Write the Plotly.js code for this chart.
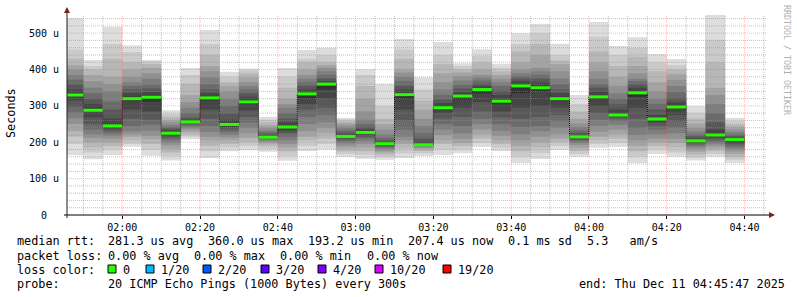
<!DOCTYPE html>
<html><head><meta charset="utf-8">
<script src="https://cdn.plot.ly/plotly-3.0.1.min.js"></script>
<style>html,body{margin:0;padding:0;background:#fff}#chart{width:797px;height:297px}</style>
</head><body><div id="chart"></div>
<script>
// ---- data (microseconds) ----
const slotEnds = ['01:50','01:55','02:00','02:05','02:10','02:15','02:20','02:25','02:30','02:35','02:40','02:45','02:50','02:55','03:00','03:05','03:10','03:15','03:20','03:25','03:30','03:35','03:40','03:45','03:50','03:55','04:00','04:05','04:10','04:15','04:20','04:25','04:30','04:35','04:40'];
const medianRtt = [330,288,245,320,324,225,256,322,249,311,214,242,333,360,216,227,196,331,193.2,295,327,345,313,355,350,320,215,325,275,336,264,297,204,220,207.4];

// 20 sorted ping times per 5-minute slot
const r0150 = [164,195,215,230,250,266,282,298,315,327,333,345,360,372,385,400,412,430,455,541];
const r0155 = [153,172,185,200,212,222,235,250,268,284,292,305,320,335,350,368,385,400,410,426];
const r0200 = [165,180,190,200,210,218,225,232,238,243,248,265,290,312,340,360,380,430,470,518];
const r0205 = [188,195,205,215,222,230,245,265,290,315,325,335,345,355,365,380,400,420,448,466];
const r0210 = [163,180,195,208,218,232,248,262,285,312,330,338,348,358,375,390,405,415,422,426];
const r0215 = [150,162,172,182,192,200,207,213,218,222,228,233,238,242,248,255,262,270,278,288];
const r0220 = [208,215,222,228,235,240,245,250,253,255,258,262,268,280,295,310,330,360,385,404];
const r0225 = [157,175,190,205,215,228,245,265,290,315,325,335,345,360,378,395,410,440,470,509];
const r0230 = [175,185,195,205,213,220,228,235,242,247,252,262,280,300,320,340,355,365,380,394];
const r0235 = [178,190,200,212,225,240,255,270,288,305,315,325,335,345,355,365,378,390,398,403];
const r0240 = [174,182,190,196,201,205,208,210,212,213,216,219,223,228,233,240,247,255,262,270];
const r0245 = [149,162,175,185,195,205,215,225,232,238,245,255,265,280,295,305,320,350,380,404];
const r0250 = [176,190,205,215,230,250,270,290,305,320,335,345,355,365,375,385,400,420,430,454];
const r0255 = [180,195,210,225,240,255,275,295,320,345,362,368,375,385,395,405,412,420,440,460];
const r0300 = [160,168,175,183,190,197,203,208,212,215,218,222,227,233,240,247,253,258,263,267];
const r0305 = [155,165,175,185,195,203,210,215,220,225,230,235,242,250,262,285,320,355,385,401];
const r0310 = [152,160,166,172,177,182,186,189,192,194,197,200,205,212,222,235,250,265,300,360];
const r0315 = [157,170,183,195,205,215,235,260,290,320,335,345,355,368,380,392,400,430,455,484];
const r0320 = [162,170,176,181,185,188,190,191,192,193,194,200,210,225,245,265,290,315,345,379];
const r0325 = [165,180,195,205,220,235,250,265,280,292,298,308,318,330,345,365,390,415,440,476];
const r0330 = [170,180,190,198,210,225,245,270,295,318,330,338,348,358,370,382,392,400,410,417];
const r0335 = [187,198,210,222,235,250,265,285,310,335,348,355,362,370,378,385,400,420,438,456];
const r0340 = [176,185,195,205,218,232,250,268,285,305,318,330,342,355,365,375,385,395,405,416];
const r0345 = [143,160,175,190,205,222,242,265,295,335,358,368,375,382,390,400,420,450,470,500];
const r0350 = [154,170,185,200,215,230,245,270,300,340,355,365,375,385,395,405,440,470,500,525];
const r0355 = [179,190,200,210,222,240,258,275,295,315,325,335,345,360,375,395,415,425,440,471];
const r0400 = [160,168,176,184,192,198,203,207,211,214,217,221,226,233,242,252,265,285,305,330];
const r0405 = [185,195,205,215,228,245,262,280,300,320,330,340,350,360,375,395,420,450,490,531];
const r0410 = [187,198,210,222,235,248,258,265,270,273,278,290,305,320,335,355,380,410,440,465];
const r0415 = [142,160,175,190,205,220,240,265,295,325,340,350,360,368,375,390,410,435,460,489];
const r0420 = [168,180,190,200,210,222,235,245,255,262,266,275,290,305,320,340,365,395,420,443];
const r0425 = [160,172,185,198,210,225,240,258,275,292,300,310,322,338,355,372,388,400,412,429];
const r0430 = [150,158,166,174,181,187,192,197,200,203,206,210,216,222,230,240,252,265,280,300];
const r0435 = [160,168,176,183,190,196,202,208,213,218,223,235,255,280,305,330,350,420,482,550];
const r0440 = [143,152,160,168,175,182,188,194,199,204,208,212,217,222,228,235,243,250,258,267];
const pingsBySlot = [r0150,r0155,r0200,r0205,r0210,r0215,r0220,r0225,r0230,r0235,r0240,r0245,r0250,r0255,r0300,r0305,r0310,r0315,r0320,r0325,r0330,r0335,r0340,r0345,r0350,r0355,r0400,r0405,r0410,r0415,r0420,r0425,r0430,r0435,r0440];

const yTickVals = [0,100,200,300,400,500];
const yTickText = ['0\u00a0\u00a0','100 u','200 u','300 u','400 u','500 u'];
const lossLevels = ['0','1/20','2/20','3/20','4/20','10/20','19/20'];
const lossColors = ['#26ff00','#00b8ff','#0059ff','#5e00ff','#7e00ff','#dd00ff','#ff0000'];
const DAY = '2025-12-11';
const rangeStart = '01:45:47', rangeEnd = '04:45:47';
const STEP_MIN = 5;

// ---- helpers ----
const pad = n => String(n).padStart(2,'0');
function toMin(s){ const p = s.split(':').map(Number); return p[0]*60 + p[1] + (p[2]||0)/60; }
function fmt(min){ const t = Math.round(min*60); return DAY+' '+pad(Math.floor(t/3600))+':'+pad(Math.floor(t%3600/60))+':'+pad(t%60); }

const endMin = slotEnds.map(toMin);
const centers = endMin.map(m => fmt(m - STEP_MIN/2));
const starts = endMin.map(m => fmt(m - STEP_MIN));
const ends = endMin.map(m => fmt(m));
const widthMs = STEP_MIN*60000;
const mono = 'DejaVu Sans Mono';

const traces = [];
const half = 10;
for (let k = 1; k <= half; k++) {
  const c = Math.floor(190/half*(half-k)) + 50;
  const col = 'rgb('+c+','+c+','+c+')';
  traces.push({
    type:'bar', x:centers,
    base: pingsBySlot.map(p => p[k-1]),
    y: pingsBySlot.map(p => p[20-k] - p[k-1]),
    width: centers.map(() => widthMs),
    marker:{color:col, line:{width:0}},
    hoverinfo:'skip'
  });
}
// dotted connectors of the median
traces.push({
  type:'scatter', mode:'lines',
  x: starts.concat([ends[ends.length-1]]),
  y: medianRtt.concat([medianRtt[medianRtt.length-1]]),
  line:{shape:'hv', color:'#000', width:1, dash:'1px,1px'},
  hoverinfo:'skip'
});
// green median segments
const gx = [], gy = [];
medianRtt.forEach((m,i) => { gx.push(starts[i], ends[i], null); gy.push(m, m, null); });
traces.push({type:'scatter', mode:'lines', x:gx, y:gy, line:{color:lossColors[0], width:3}, hoverinfo:'skip'});

// ---- layout decorations ----
const L = 67, T = 15, W = 700, H = 200, Y0 = 0, Y1 = 550;
const px2x = px => (px - L)/W;
const py2y = py => (T + H - py)/H;
const shapes = [];
const minorGrid = 'rgba(143,143,143,0.55)', majorGrid = 'rgba(222,79,79,0.38)';
const x0 = toMin(rangeStart), x1 = toMin(rangeEnd);
for (let t = Math.ceil(x0/STEP_MIN)*STEP_MIN; t <= x1; t += STEP_MIN) {
  shapes.push({type:'line', layer:'above', xref:'x', yref:'paper', x0:fmt(t), x1:fmt(t), y0:0, y1:1,
    line:{color: t%20===0 ? majorGrid : minorGrid, width:1, dash:'1px,1px'}});
}
for (let v = 20; v < Y1; v += 20) {
  shapes.push({type:'line', layer:'above', xref:'paper', yref:'y', x0:0, x1:1, y0:v, y1:v,
    line:{color: v%100===0 ? majorGrid : minorGrid, width:1, dash:'1px,1px'}});
}
// axes with arrows
shapes.push({type:'line', layer:'above', xref:'paper', yref:'paper', x0:px2x(64), x1:px2x(771), y0:0, y1:0, line:{color:'#000', width:1}});
shapes.push({type:'line', layer:'above', xref:'paper', yref:'paper', x0:0, x1:0, y0:py2y(218), y1:py2y(11), line:{color:'#1f1f1f', width:1}});
shapes.push({type:'path', layer:'above', xref:'paper', yref:'paper',
  path:'M '+px2x(67)+','+py2y(7)+' L '+px2x(64)+','+py2y(13)+' L '+px2x(70)+','+py2y(13)+' Z',
  fillcolor:'#801f1f', line:{width:0}});
shapes.push({type:'path', layer:'above', xref:'paper', yref:'paper',
  path:'M '+px2x(775)+','+py2y(215)+' L '+px2x(769)+','+py2y(212)+' L '+px2x(769)+','+py2y(218)+' Z',
  fillcolor:'#801f1f', line:{width:0}});

const annotations = [];
const FS = 11.8;
function txt(s, px, py, opts){
  annotations.push(Object.assign({text:s.replace(/ /g,'\u00a0'), xref:'paper', yref:'paper', x:px2x(px), y:py2y(py),
    xanchor:'left', yanchor:'middle', showarrow:false, borderpad:0, font:{family:mono, size:FS, color:'#000'}}, opts||{}));
}
txt('median rtt:', 16, 241);
txt('281.3 us avg', 107, 241);
txt('360.0 us max', 207, 241);
txt('193.2 us min', 307, 241);
txt('207.4 us now', 407, 241);
txt('0.1 ms sd', 507, 241);
txt('5.3   am/s', 586, 241);
txt('packet loss:', 16, 256);
txt('0.00 % avg', 107, 256);
txt('0.00 % max', 193, 256);
txt('0.00 % min', 279, 256);
txt('0.00 % now', 366, 256);
txt('loss color:', 16, 270);
const sqX = [108,146,203,261,318,375,443];
lossLevels.forEach((lv,i) => {
  shapes.push({type:'rect', xref:'paper', yref:'paper', x0:px2x(sqX[i]), x1:px2x(sqX[i]+8), y0:py2y(273), y1:py2y(265),
    fillcolor:lossColors[i], line:{color:'#000', width:1}});
  txt(lv, sqX[i]+14, 270);
});
txt('probe:', 16, 284);
txt('20 ICMP Echo Pings (1000 Bytes) every 300s', 107, 284);
txt('end: Thu Dec 11 04:45:47 2025', 578, 284);
annotations.push({text:'Seconds', xref:'paper', yref:'paper', x:px2x(11), y:py2y(113), xanchor:'center', yanchor:'middle',
  textangle:-90, showarrow:false, borderpad:0, font:{family:mono, size:FS, color:'#000'}});
annotations.push({text:'RRDTOOL\u00a0/\u00a0TOBI\u00a0OETIKER', xref:'paper', yref:'paper', x:px2x(787), y:py2y(60), xanchor:'center', yanchor:'middle',
  textangle:90, showarrow:false, borderpad:0, font:{family:mono, size:8.3, color:'#b0b0b0'}});

const layout = {
  width:797, height:297, margin:{l:L, r:797-L-W, t:T, b:297-T-H},
  paper_bgcolor:'#fff', plot_bgcolor:'#fff', showlegend:false, barmode:'overlay',
  xaxis:{type:'date', range:[fmt(x0), fmt(x1)], autorange:false, showgrid:false, zeroline:false, showline:false,
    tickformat:'%H:%M', dtick:20*60000, tick0:DAY+' 00:00:00', ticks:'outside', ticklen:3, tickcolor:'#000',
    tickfont:{family:mono, size:10, color:'#000'}, fixedrange:true},
  yaxis:{range:[Y0, Y1], autorange:false, showgrid:false, zeroline:false, showline:false,
    tickmode:'array', tickvals:yTickVals, ticktext:yTickText, ticks:'outside', ticklen:5, tickcolor:'rgba(0,0,0,0)',
    tickfont:{family:mono, size:10, color:'#000'}, fixedrange:true},
  shapes, annotations
};
Plotly.newPlot('chart', traces, layout, {staticPlot:true, displayModeBar:false});
</script></body></html>
